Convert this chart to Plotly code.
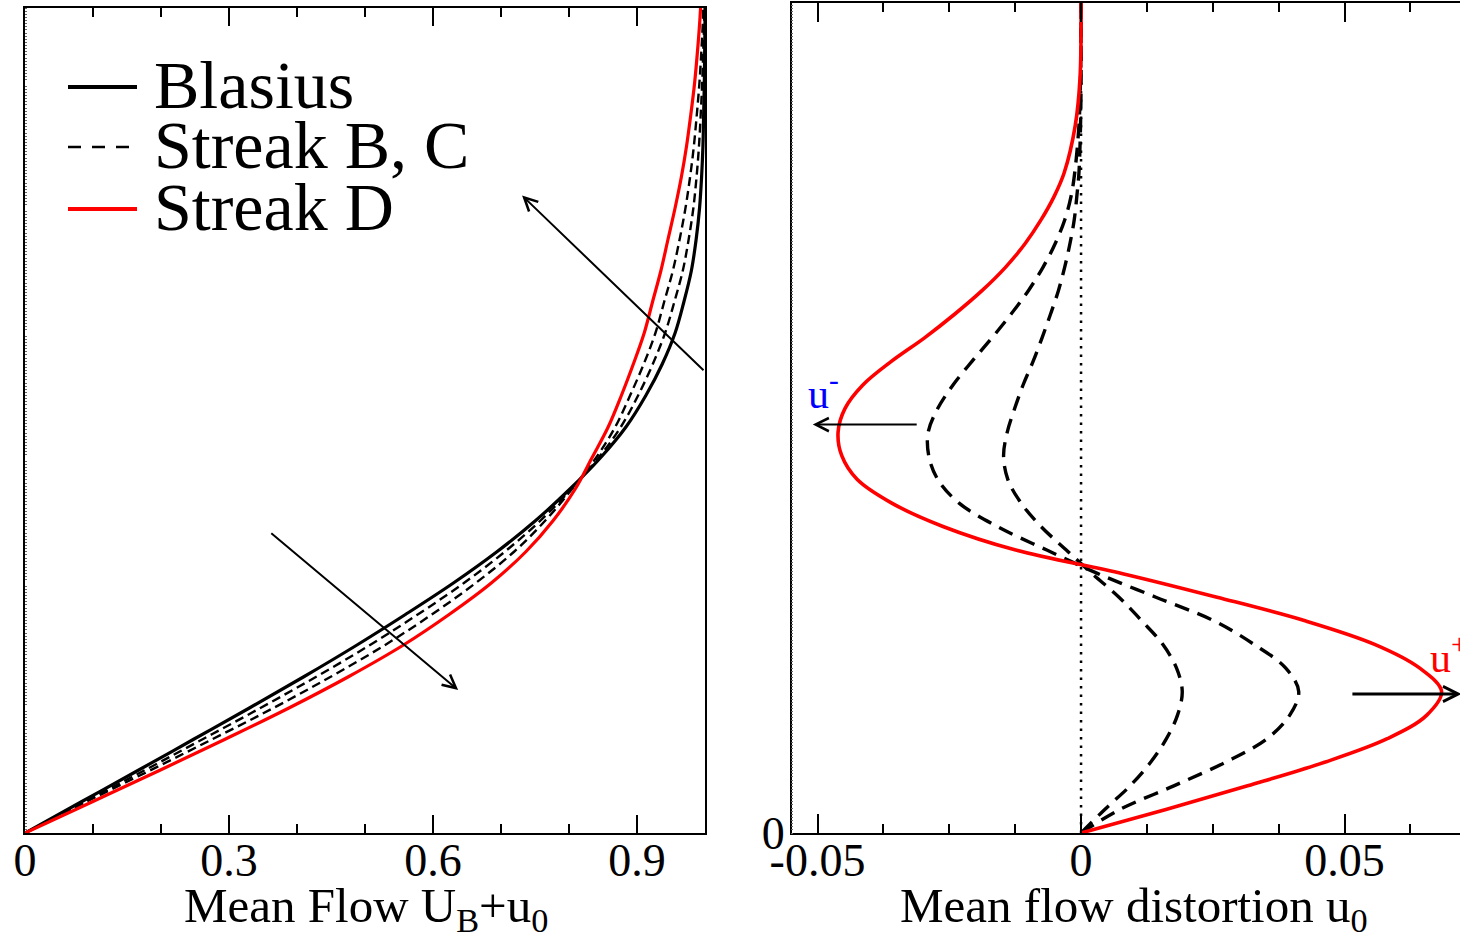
import plotly.graph_objects as go

# Wall-normal coordinate (similarity variable) shared by both panels
eta = [0, 0.25, 0.5, 0.75, 1.0, 1.25, 1.5, 1.75, 2.0, 2.25, 2.5, 2.75, 3.0, 3.25,
       3.5, 3.75, 4.0, 4.25, 4.5, 4.75, 5.0, 5.25, 5.5, 5.75, 6.0, 6.25, 6.5, 6.75,
       7.0, 7.5, 8.0, 8.8]

# Blasius base flow U_B
u_blasius = [0, 0.083, 0.166, 0.248, 0.330, 0.410, 0.487, 0.560, 0.630, 0.694, 0.751,
             0.801, 0.846, 0.884, 0.913, 0.937, 0.956, 0.969, 0.980, 0.987, 0.992,
             0.995, 0.997, 0.998, 0.999, 0.9995, 1.0, 1.0, 1.0, 1.0, 1.0, 1.0]

# Mean flow distortion u_0 of the streaks
u0_streak_b = [0, 0.0045, 0.0093, 0.0132, 0.0162, 0.0183, 0.0192, 0.0181, 0.0155, 0.0115,
               0.0072, 0.0021, -0.0028, -0.0076, -0.0114, -0.0139, -0.0147, -0.0140,
               -0.0126, -0.0110, -0.0091, -0.0074, -0.0058, -0.0043, -0.0031, -0.0021,
               -0.0013, -0.0008, -0.0004, -0.0001, 0, 0]
u0_streak_c = [0, 0.0074, 0.0176, 0.0274, 0.0353, 0.0396, 0.0413, 0.0388, 0.0328, 0.0252,
               0.0142, 0.0032, -0.0065, -0.0159, -0.0232, -0.0272, -0.0289, -0.0290,
               -0.0272, -0.0243, -0.0207, -0.0169, -0.0133, -0.0100, -0.0072, -0.0049,
               -0.0031, -0.0019, -0.0012, -0.0004, -0.0001, 0]
u0_streak_d = [0, 0.0161, 0.0316, 0.0462, 0.0581, 0.0656, 0.0684, 0.0642, 0.0557, 0.0425,
               0.0258, 0.0079, -0.0124, -0.0262, -0.0360, -0.0425, -0.0454, -0.0461,
               -0.0448, -0.0414, -0.0360, -0.0297, -0.0240, -0.0188, -0.0143, -0.0106,
               -0.0076, -0.0051, -0.0032, -0.0011, -0.0002, 0]

# Tick labels
left_tick_vals = [0, 0.3, 0.6, 0.9]
left_tick_text = ["0", "0.3", "0.6", "0.9"]
left_minor_vals = [0.1, 0.2, 0.4, 0.5, 0.7, 0.8, 1.0]
right_tick_vals = [-0.05, 0, 0.05]
right_tick_text = ["-0.05", "0", "0.05"]
right_minor_vals = [-0.0375, -0.025, -0.0125, 0.0125, 0.025, 0.0375, 0.0625]

legend_labels = ["Blasius", "Streak B, C", "Streak D"]

FONT = "Liberation Serif"
W, H = 1460, 943


def px_x(p):
    return p / W


def px_y(p):
    return (H - p) / H


def total(u0):
    return [ub + d for ub, d in zip(u_blasius, u0)]


SPLINE = dict(shape="spline", smoothing=1.0)

fig = go.Figure()

# ---- left panel: total mean flow U_B + u_0
for u0 in (u0_streak_b, u0_streak_c):
    fig.add_trace(go.Scatter(x=total(u0), y=eta, mode="lines", xaxis="x", yaxis="y",
                             line=dict(color="black", width=2.4, dash="9px,5px", **SPLINE)))
fig.add_trace(go.Scatter(x=u_blasius, y=eta, mode="lines", xaxis="x", yaxis="y",
                         line=dict(color="black", width=3.2, **SPLINE)))
fig.add_trace(go.Scatter(x=total(u0_streak_d), y=eta, mode="lines", xaxis="x", yaxis="y",
                         line=dict(color="red", width=3.2, **SPLINE)))

# ---- right panel: distortion u_0
fig.add_trace(go.Scatter(x=[0, 0], y=[0, 8.8], mode="lines", xaxis="x2", yaxis="y2",
                         line=dict(color="black", width=2.5, dash="2.5px,6px")))
for u0 in (u0_streak_b, u0_streak_c):
    fig.add_trace(go.Scatter(x=u0, y=eta, mode="lines", xaxis="x2", yaxis="y2",
                             line=dict(color="black", width=3.4, dash="15px,9px", **SPLINE)))
fig.add_trace(go.Scatter(x=u0_streak_d, y=eta, mode="lines", xaxis="x2", yaxis="y2",
                         line=dict(color="red", width=3.6, **SPLINE)))

tickfont = dict(family=FONT, size=46, color="black")
titlefont = dict(family=FONT, size=49, color="black")
axis_common = dict(showgrid=False, zeroline=False, showline=True, linecolor="black",
                   linewidth=1.5, automargin=False)

fig.update_layout(
    width=W, height=H, autosize=False, showlegend=False,
    margin=dict(l=0, r=0, t=0, b=0, pad=0),
    paper_bgcolor="white", plot_bgcolor="white",
    xaxis=dict(domain=[px_x(25), px_x(705)], range=[0, 1], anchor="y",
               mirror="allticks", ticks="inside", ticklen=18, tickwidth=1.5,
               tickcolor="black", tickmode="array", tickvals=left_tick_vals,
               ticktext=left_tick_text, tickfont=tickfont, ticklabelstandoff=-14,
               minor=dict(ticks="inside", ticklen=9, tickwidth=1.5, tickcolor="black",
                          tickmode="array", tickvals=left_minor_vals),
               **axis_common),
    yaxis=dict(domain=[px_y(833), px_y(8)], range=[0, 6.6], anchor="x",
               mirror=True, showticklabels=False, ticks="",
               minor=dict(ticks="inside", ticklen=2, tickwidth=1, tickcolor="#666",
                          dtick=0.025),
               **axis_common),
    xaxis2=dict(domain=[px_x(791.7), 1.0], range=[-0.0549, 0.0719], anchor="y2",
                mirror="allticks", ticks="inside", ticklen=19, tickwidth=1.5,
                tickcolor="black", tickmode="array", tickvals=right_tick_vals,
                ticktext=right_tick_text, tickfont=tickfont, ticklabelstandoff=-14,
                minor=dict(ticks="inside", ticklen=9, tickwidth=1.5, tickcolor="black",
                           tickmode="array", tickvals=right_minor_vals),
                **axis_common),
    yaxis2=dict(domain=[px_y(833), px_y(3)], range=[0, 8.8], anchor="x2",
                mirror=False, ticks="", tickmode="array", tickvals=[0], ticktext=["0"],
                tickfont=tickfont, ticklabelstandoff=-4,
                minor=dict(ticks="inside", ticklen=2, tickwidth=1, tickcolor="#666",
                           dtick=0.033),
                **axis_common),
)

# axis titles
fig.add_annotation(xref="paper", yref="paper", x=px_x(366), y=px_y(908),
                   text="Mean Flow U<sub>B</sub>+u<sub>0</sub>", showarrow=False,
                   xanchor="center", yanchor="middle", font=titlefont)
fig.add_annotation(xref="paper", yref="paper", x=px_x(1134), y=px_y(908),
                   text="Mean flow distortion u<sub>0</sub>", showarrow=False,
                   xanchor="center", yanchor="middle", font=titlefont)

# legend
legend_rows = [87, 147, 209]
legend_styles = [dict(color="black", width=4), dict(color="black", width=2.5, dash="13px,11px"),
                 dict(color="red", width=4)]
for label, row, style in zip(legend_labels, legend_rows, legend_styles):
    fig.add_shape(type="line", xref="paper", yref="paper", x0=px_x(68), x1=px_x(137),
                  y0=px_y(row), y1=px_y(row), line=style)
    fig.add_annotation(xref="paper", yref="paper", x=px_x(152), y=px_y(row - 2),
                       text=label, showarrow=False, xanchor="left", yanchor="middle",
                       font=dict(family=FONT, size=68, color="black"))

# trend arrows, left panel
fig.add_annotation(xref="x", yref="y", axref="x", ayref="y", x=0.731, y=5.10, ax=1.0,
                   ay=3.69, text="", showarrow=True, arrowhead=5, arrowwidth=2,
                   arrowsize=1.3, arrowcolor="black")
fig.add_annotation(xref="x", yref="y", axref="x", ayref="y", x=0.637, y=1.144, ax=0.360,
                   ay=2.408, text="", showarrow=True, arrowhead=5, arrowwidth=2,
                   arrowsize=1.3, arrowcolor="black")

# u- / u+ markers, right panel
fig.add_annotation(xref="x2", yref="y2", axref="x2", ayref="y2", x=-0.0509, y=4.33,
                   ax=-0.0309, ay=4.33, text="", showarrow=True, arrowhead=5,
                   arrowwidth=2, arrowsize=1.3, arrowcolor="black")
fig.add_annotation(xref="x2", yref="y2", axref="x2", ayref="y2", x=0.0722, y=1.474,
                   ax=0.0512, ay=1.474, text="", showarrow=True, arrowhead=5,
                   arrowwidth=3, arrowsize=1.0, arrowcolor="black")
fig.add_annotation(xref="paper", yref="paper", x=px_x(806), y=px_y(390),
                   text="u<sup>-</sup>", showarrow=False, xanchor="left", yanchor="middle",
                   font=dict(family=FONT, size=42, color="blue"))
fig.add_annotation(xref="paper", yref="paper", x=px_x(1428), y=px_y(655),
                   text="u<sup>+</sup>", showarrow=False, xanchor="left", yanchor="middle",
                   font=dict(family=FONT, size=42, color="red"))

fig.write_html("out.html")
